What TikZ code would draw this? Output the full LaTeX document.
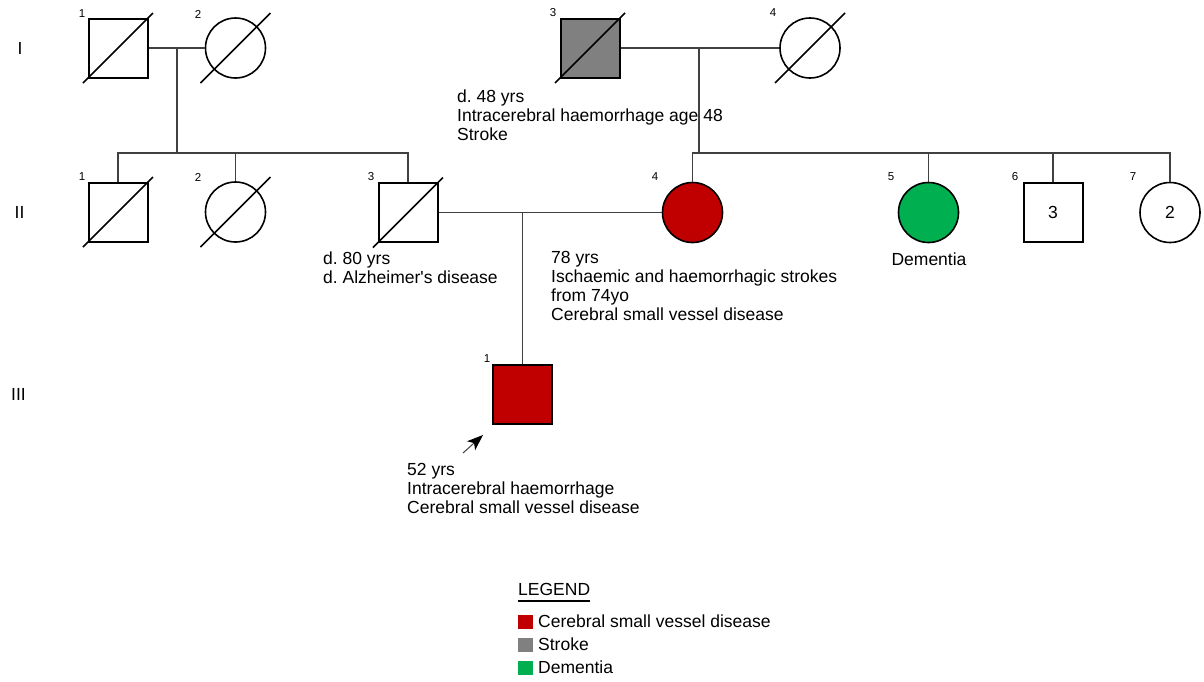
\documentclass[tikz,border=0pt]{standalone}
\usepackage{fontspec}
\setmainfont{Liberation Sans}
\usetikzlibrary{arrows.meta,calc}
\definecolor{csvd}{HTML}{C00000}
\definecolor{strk}{HTML}{808080}
\definecolor{dem}{HTML}{00B050}
\definecolor{linkcol}{HTML}{404040}
\frenchspacing
\tikzset{
  male/.style={rectangle, draw=black, line width=2pt, minimum size=59pt, inner sep=0pt, font=\fontsize{17.5}{19}\selectfont},
  female/.style={circle, draw=black, line width=1.6pt, minimum size=60pt, inner sep=0pt, font=\fontsize{17.5}{19}\selectfont},
  link/.style={draw=linkcol, line width=1.3pt},
  slash/.style={draw=black, line width=1.5pt},
  num/.style={font=\fontsize{11.5}{12}\selectfont, inner sep=0pt},
  gen/.style={font=\fontsize{17.5}{19}\selectfont, inner sep=0pt},
  note/.style={font=\fontsize{17.5}{19}\selectfont, align=left, anchor=north west, inner sep=0pt},
  legtext/.style={font=\fontsize{17.5}{19}\selectfont, anchor=base west, inner sep=0pt},
  legbox/.style={rectangle, minimum width=15pt, minimum height=14pt, inner sep=0pt},
}
\newcommand\deadslash[1]{\draw[slash] ($(#1.center)+(-35,35)$) -- ($(#1.center)+(35,-35)$);}
\begin{document}
\begin{tikzpicture}[x=1pt,y=-1pt]
\useasboundingbox (0,0) rectangle (1204,681);
% generation labels
\node[gen] (gI) at (20,48) {I};
\node[gen] (gII) at (19.5,212.5) {II};
\node[gen] (gIII) at (18.5,394.5) {III};
% generation I
\node[male] (I1) at (118,48) {};
\node[female] (I2) at (235.5,48) {};
\node[male, fill=strk] (I3) at (590,48) {};
\node[female] (I4) at (810,48) {};
\deadslash{I1}\deadslash{I2}\deadslash{I3}\deadslash{I4}
\node[num] (nI1) at (82,14) {1};
\node[num] (nI2) at (198,14) {2};
\node[num] (nI3) at (553,13) {3};
\node[num] (nI4) at (773,13) {4};
% generation II
\node[male] (II1) at (118,212) {};
\node[female] (II2) at (235.5,212) {};
\node[male] (II3) at (408,212.5) {};
\node[female, fill=csvd] (II4) at (692.5,212.5) {};
\node[female, fill=dem] (II5) at (928.5,212.5) {};
\node[male] (II6) at (1053,212.5) {3};
\node[female] (II7) at (1170,212.5) {2};
\deadslash{II1}\deadslash{II2}\deadslash{II3}
\node[num] (nII1) at (82,177) {1};
\node[num] (nII2) at (198,177) {2};
\node[num] (nII3) at (371,177) {3};
\node[num] (nII4) at (655,177) {4};
\node[num] (nII5) at (891,177) {5};
\node[num] (nII6) at (1015,177) {6};
\node[num] (nII7) at (1133,177) {7};
% generation III
\node[male, fill=csvd] (III1) at (522.5,394.5) {};
\node[num] (nIII1) at (487,359) {1};
% connectors
\coordinate (m1) at (177,48);
\coordinate (s1) at (177,153);
\draw[link] (I1) -- (I2);
\draw[link] (m1) -- (s1);
\draw[link] (II1.north) |- (s1) -| (II3.north);
\draw[link] (II2.north) -- (II2.north |- s1);
\coordinate (m2) at (699,48);
\coordinate (s2) at (699,153);
\draw[link] (I3) -- (I4);
\draw[link] (m2) -- (s2);
\draw[link] (II4.north) |- (s2) -| (II7.north);
\draw[link] (II5.north) -- (II5.north |- s2);
\draw[link] (II6.north) -- (II6.north |- s2);
\coordinate (m3) at (522.5,212.5);
\draw[link] (II3) -- (II4);
\draw[link] (m3) -- (III1.north);
% proband arrow
\coordinate (ptail) at (463,453);
\draw[draw=linkcol, line width=1pt, -{Stealth[length=16pt,width=12pt,inset=4pt,color=black]}] (ptail) -- ($(III1.south west)+(-9,10)$);
% notes
\node[note] (tI3) at (457,89.5) {d. 48 yrs\\Intracerebral haemorrhage age 48\\Stroke};
\node[note] (tII3) at (323,251.5) {d. 80 yrs\\d. Alzheimer\textquotesingle s disease};
\node[note] (tII4) at (551,251.5) {78 yrs\\Ischaemic and haemorrhagic strokes\\from 74yo\\Cerebral small vessel disease};
\node[font=\fontsize{17.5}{19}\selectfont, anchor=base, inner sep=0pt] (tII5) at (929,265) {Dementia};
\node[note] (tIII1) at (407,463.5) {52 yrs\\Intracerebral haemorrhage\\Cerebral small vessel disease};
% legend
\node[legtext] (leg) at (518,595) {LEGEND};
\draw[line width=1.4pt] ($(leg.base west)+(0,6)$) -- ($(leg.base east)+(0,6)$);
\node[legbox, fill=csvd] (lb1) at (525,622) {};
\node[legtext] (lt1) at (538,627) {Cerebral small vessel disease};
\node[legbox, fill=strk] (lb2) at (525,645) {};
\node[legtext] (lt2) at (538,650) {Stroke};
\node[legbox, fill=dem] (lb3) at (525,668) {};
\node[legtext] (lt3) at (538,673) {Dementia};
\end{tikzpicture}
\end{document}
